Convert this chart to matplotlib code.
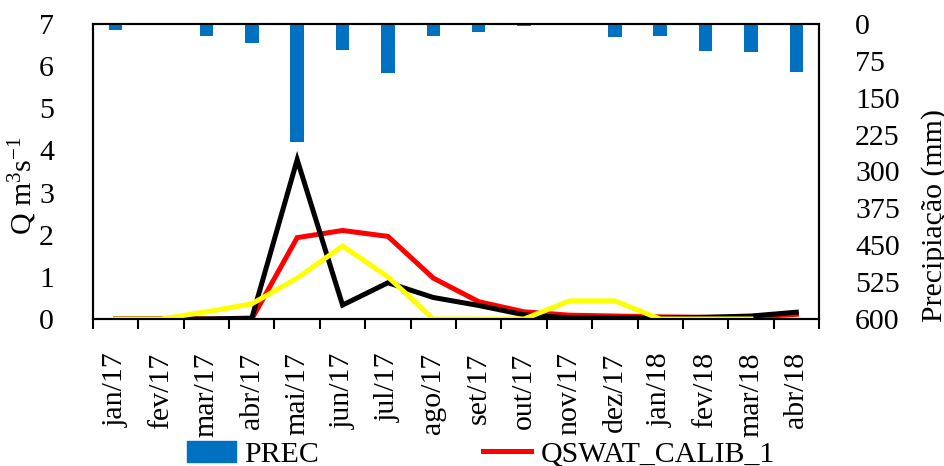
import matplotlib
matplotlib.use("Agg")
import matplotlib.pyplot as plt
import numpy as np
from matplotlib.patches import Patch
from matplotlib.lines import Line2D

plt.rcParams['font.family'] = ['Liberation Serif', 'DejaVu Serif']
plt.rcParams['font.size'] = 21.5
plt.rcParams['mathtext.fontset'] = 'custom'
plt.rcParams['mathtext.rm'] = 'Liberation Serif'

months = ['jan/17', 'fev/17', 'mar/17', 'abr/17', 'mai/17', 'jun/17', 'jul/17', 'ago/17',
          'set/17', 'out/17', 'nov/17', 'dez/17', 'jan/18', 'fev/18', 'mar/18', 'abr/18']

# monthly rainfall (mm)
prec = [13, 3, 24, 39, 240, 53, 100, 24, 16, 4, 0, 26, 25, 54, 56, 98]

# discharge series (m3/s)
q_obs = [0.0, 0.0, 0.0, 0.02, 3.78, 0.33, 0.86, 0.51, 0.32, 0.1, 0.03, 0.02, 0.02, 0.04, 0.07, 0.16]
q_calib_1 = [0.0, 0.0, 0.0, 0.0, 1.93, 2.1, 1.96, 0.97, 0.41, 0.17, 0.09, 0.07, 0.05, 0.04, 0.04, 0.11]
q_calib_2 = [0.0, 0.0, 0.17, 0.36, 0.97, 1.73, 1.0, 0.0, 0.0, 0.0, 0.43, 0.43, 0.0, 0.0, 0.0]

x = np.arange(len(months)) + 0.5

fig = plt.figure(figsize=(9.44, 4.66), dpi=100)
ax = fig.add_axes([0.0985, 0.3155, 0.7691, 0.633])

ax.plot(x, q_calib_1, color='#ff0000', lw=3.6, zorder=2, solid_joinstyle='miter')
ax.plot(x, q_obs, color='black', lw=3.6, zorder=3, solid_joinstyle='miter')
ax.plot(x[:len(q_calib_2)], q_calib_2, color='#ffff00', lw=3.6, zorder=4, solid_joinstyle='miter')

ax.set_xlim(0, len(months))
ax.set_ylim(0, 7)
ax.set_yticks(range(0, 8))
ax.set_xticks(x)
ax.set_xticklabels(months, rotation=90)
ax.set_xticks(np.arange(0, len(months) + 1), minor=True)
ax.tick_params(axis='x', which='major', length=0, pad=24)
ax.tick_params(axis='x', which='minor', length=7, width=1.5, direction='out')
ax.tick_params(axis='y', length=0, pad=28)
ax.set_ylabel(r'Q m$\mathregular{^{3}}$s$\mathregular{^{-1}}$')
ax.yaxis.set_label_coords(-0.075, 0.45)

# rainfall hangs from the top on an inverted secondary axis
ax2 = ax.twinx()
ax2.bar(x, prec, width=0.3, color='#0070c0', zorder=1)
ax2.set_ylim(600, 0)
ax2.set_yticks(range(0, 601, 75))
ax2.tick_params(axis='y', length=0, pad=26)
ax2.set_ylabel('Precipiação (mm)')
ax2.yaxis.set_label_coords(1.14, 0.35)

for a in (ax, ax2):
    for s in a.spines.values():
        s.set_linewidth(1.5)

handles = [Patch(color='#0070c0'),
           Line2D([], [], color='black', lw=3.6),
           Line2D([], [], color='#ff0000', lw=3.6),
           Line2D([], [], color='#ffff00', lw=3.6)]
labels = ['PREC', 'QOBS', 'QSWAT_CALIB_1', 'QSWAT_CALIB_2']
fig.legend(handles, labels, ncol=2, loc='upper left', bbox_to_anchor=(0.198, 0.054),
           frameon=False, handlelength=1.63, handletextpad=0.3, columnspacing=5.3,
           borderaxespad=0, borderpad=0)

fig.savefig('out.png', dpi=100)
